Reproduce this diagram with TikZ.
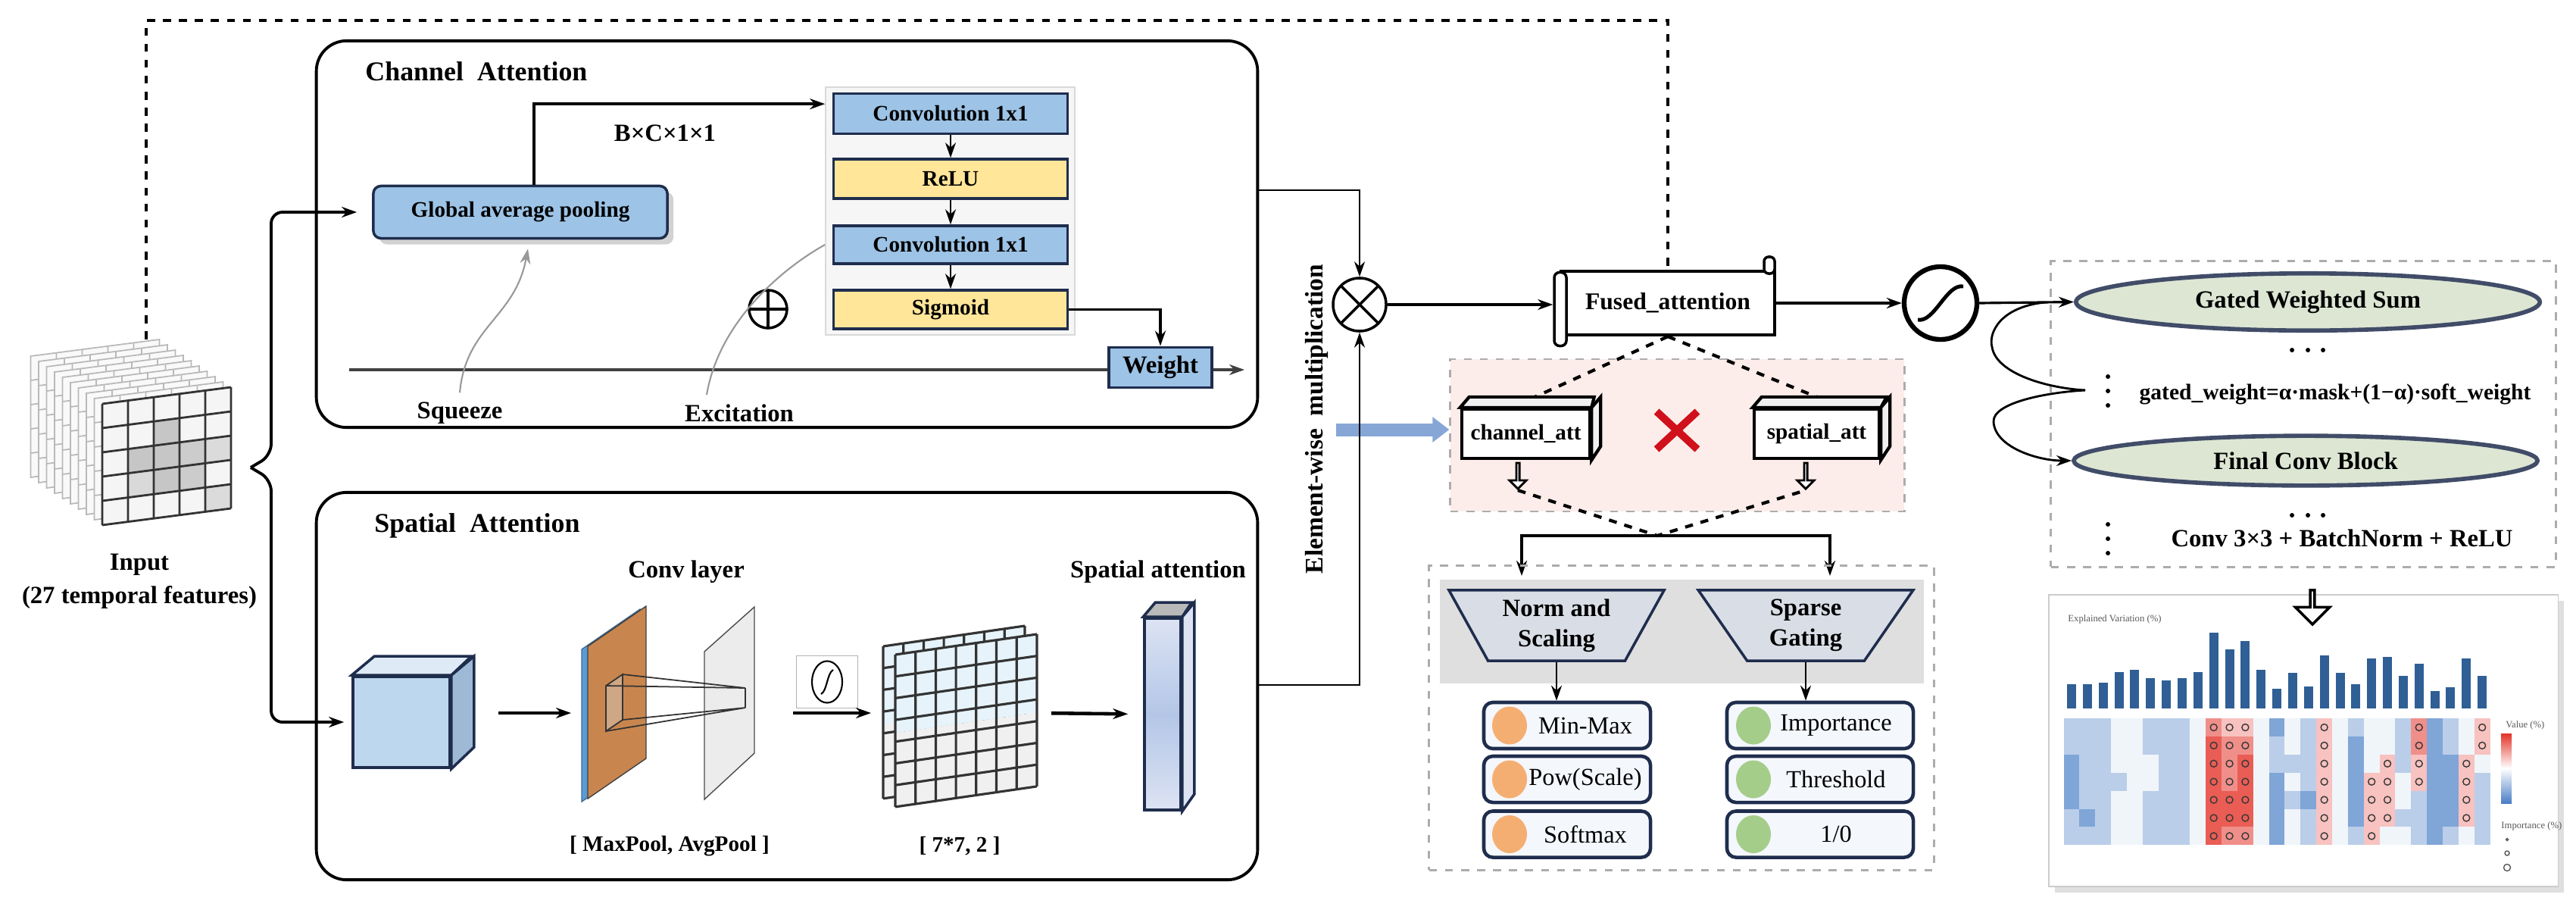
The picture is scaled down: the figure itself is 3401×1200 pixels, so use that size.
\documentclass[tikz,border=0pt]{standalone}
\usepackage{fontspec}
\setmainfont{Liberation Serif}
\usetikzlibrary{positioning,calc,arrows.meta,shapes.geometric,shapes.misc,shapes.arrows,shadows}

\definecolor{navy}{HTML}{1F2D4D}
\definecolor{boxblue}{HTML}{9DC3E6}
\definecolor{boxyellow}{HTML}{FFE699}
\definecolor{pinkbg}{HTML}{FCEDEA}
\definecolor{sage}{HTML}{DCE6D3}
\definecolor{orng}{HTML}{F5AE72}
\definecolor{grn}{HTML}{A5CD8A}
\definecolor{itembg}{HTML}{F4F7FC}
\definecolor{trapfill}{HTML}{D9DEE6}
\definecolor{cubefront}{HTML}{BDD7EE}
\definecolor{cubetopc}{HTML}{DEEBF7}
\definecolor{cubeside}{HTML}{9DB9D6}
\definecolor{convblue}{HTML}{5B9BD5}
\definecolor{convorange}{HTML}{C8864E}
\definecolor{gridblue}{HTML}{E6F3FB}
\definecolor{lav}{HTML}{DCE3F3}
\definecolor{lavmid}{HTML}{B4C6E7}
\definecolor{arrblue}{HTML}{86A6D6}
\definecolor{xred}{HTML}{D0101A}
\definecolor{barblue}{HTML}{2F5F95}
\definecolor{hmblue}{HTML}{4A7EC6}
\definecolor{hmred}{HTML}{E3342A}
\colorlet{hma}{hmblue!70!white}
\colorlet{hmb}{hmblue!38!white}
\colorlet{hmc}{hmblue!8!white}
\colorlet{hmd}{hmred!30!white}
\colorlet{hme}{hmred!55!white}
\colorlet{hmf}{hmred!80!white}

\begin{document}
\begin{tikzpicture}[x=0.01cm, y=-0.01cm, >={Stealth[length=0.2cm,width=0.14cm]},
  ttl/.style={font=\bfseries\fontsize{10.2}{12}\selectfont},
  lbl/.style={font=\bfseries\fontsize{8.3}{10}\selectfont},
  lblb/.style={font=\bfseries\fontsize{9.3}{11.5}\selectfont},
  txt/.style={font=\fontsize{9.2}{11}\selectfont},
  tiny/.style={font=\fontsize{3.6}{4}\selectfont, text=gray!70!black},
  panel/.style={draw, line width=1.1pt, rounded corners=0.4cm, minimum width=12.42cm, minimum height=5.1cm},
  bluebox/.style={draw=navy, line width=1pt, fill=boxblue, lbl},
  yelbox/.style={draw=navy, line width=1pt, fill=boxyellow, lbl},
  dashbox/.style={draw=gray!65, dashed, line width=0.8pt},
  link/.style={line width=1pt},
  thinlink/.style={line width=0.6pt},
  oplus/.style={circle, draw, line width=1pt, path picture={\draw[line width=1pt] (path picture bounding box.north) -- (path picture bounding box.south) (path picture bounding box.west) -- (path picture bounding box.east);}},
  otimes/.style={circle, draw, line width=1pt, path picture={\draw[line width=1pt] (path picture bounding box.north west) -- (path picture bounding box.south east) (path picture bounding box.north east) -- (path picture bounding box.south west);}},
  slab/.style={draw, line width=1.2pt, fill=white, minimum width=1.65cm, minimum height=0.65cm, lbl},
  hollow/.style={single arrow, draw, line width=0.8pt, fill=white, shape border rotate=270, inner sep=0pt, single arrow head extend=0.06cm},
  item/.style={draw=navy, line width=1.3pt, fill=itembg, rounded corners=0.12cm, minimum height=0.61cm},
  trap/.style={trapezium, trapezium angle=60, shape border rotate=180, trapezium stretches=true, draw=navy, line width=1pt, fill=trapfill, minimum width=2.84cm, minimum height=0.93cm, inner sep=0pt, align=center, lblb},
  gel/.style={ellipse, draw=navy!85, line width=1.6pt, fill=sage, minimum width=6.12cm, minimum height=0.62cm, lblb},
  dot/.style={circle, fill, inner sep=0pt, minimum size=0.06cm}
]
\useasboundingbox (0,0) rectangle (3401,1200);
\fill[white] (0,0) rectangle (3401,1200);

% input cube
\coordinate (cubetop) at (193,448);
\foreach \k in {9,...,1}{
  \begin{scope}[shift={({135-10.5*\k},{533-7*\k})}, x={(34,-4.4)}, y={(0,32)}]
    \filldraw[fill=gray!5, draw=gray!55, line width=0.5pt] (0,0) -- (5,0) -- (5,5) -- (0,5) -- cycle;
    \foreach \t in {1,...,4} \draw[gray!55, line width=0.5pt] (0,\t) -- (5,\t) (\t,0) -- (\t,0.3);
  \end{scope}
}
\begin{scope}[shift={(135,533)}, x={(34,-4.4)}, y={(0,32)}]
  \fill[gray!8] (0,0) -- (5,0) -- (5,5) -- (0,5) -- cycle;
  \foreach \c/\r/\s in {2/1/45, 1/2/45, 2/2/45, 3/2/40, 4/2/28, 1/3/30, 2/3/45, 3/3/40, 4/4/28}
    \fill[gray!\s] (\c,\r) -- ++(1,0) -- ++(0,1) -- ++(-1,0) -- cycle;
  \foreach \t in {0,...,5} \draw[gray!40!black, line width=0.8pt] (\t,0) -- (\t,5) (0,\t) -- (5,\t);
\end{scope}
\node[lblb] (inp) at (184,745) {Input};
\node[lblb] (inpf) at (184,788) {(27 temporal features)};

% the two attention panels
\node[panel] (ca) at (1039,309) {};
\node[panel, minimum height=5.11cm] (sa) at (1039,905.5) {};
\node[ttl, anchor=west] (catl) at (470,94) {Channel~ Attention};
\node[ttl, anchor=west] (satl) at (482,694) {Spatial~ Attention};

% channel attention
\node[bluebox, rounded corners=0.1cm, minimum width=3.88cm, minimum height=0.69cm, drop shadow={opacity=0.35}] (gap) at (687,280) {Global average pooling};
\node[draw=gray!30, fill=gray!7, minimum width=3.29cm, minimum height=3.27cm] (convbg) at (1254.5,278.5) {};
\node[bluebox, minimum width=3.09cm, minimum height=0.53cm] (conv1) at (1255,150) {Convolution 1x1};
\node[yelbox, minimum width=3.09cm, minimum height=0.52cm] (relu) at (1255,236) {ReLU};
\node[bluebox, minimum width=3.09cm, minimum height=0.5cm] (conv2) at (1255,323) {Convolution 1x1};
\node[yelbox, minimum width=3.09cm, minimum height=0.51cm] (sigm) at (1255,408.5) {Sigmoid};
\draw[thinlink,->] (conv1) -- (relu);
\draw[thinlink,->] (relu) -- (conv2);
\draw[thinlink,->] (conv2) -- (sigm);
\draw[link,->] ($(gap.north)+(18,0)$) |- ($(convbg.north west)+(0,23)$);
\node[lblb] (bcxx) at (878,176) {B×C×1×1};
\node[oplus, minimum size=0.5cm] (plus) at (1014,408) {};
\coordinate (wl0) at (461,488);
\coordinate (wl1) at (1643,488);
\draw[line width=1.4pt, black!75, ->] (wl0) -- (wl1);
\node[bluebox, lblb, minimum width=1.36cm, minimum height=0.52cm] (weight) at (1532,485) {Weight};
\draw[link,->] (sigm.east) -| (weight.north);
\node[lblb] (sq) at (607,545) {Squeeze};
\node[lblb] (ex) at (976,545) {Excitation};
\draw[gray!80, line width=0.6pt, ->] (sq.north) .. controls (615,430) and (680,420) .. ($(gap.south)+(10,12)$);
\draw[gray!80, line width=0.6pt] ($(ex.north)+(-43,0)$) .. controls (950,420) and (1040,350) .. (convbg.west |- conv2);

% input split
\coordinate (split) at (331,617);
\draw[line width=1.1pt, ->, rounded corners=0.15cm, shorten >=0.2cm] (split) -- ++(27,-16) |- (gap.west);

% spatial attention
\node[draw=navy, line width=1pt, fill=cubefront, minimum width=1.28cm, minimum height=1.2cm] (cubeb) at (530,953) {};
\filldraw[draw=navy, line width=1pt, fill=cubetopc] (cubeb.north west) -- ++(30,-25) -- ++(128,0) -- (cubeb.north east) -- cycle;
\filldraw[draw=navy, line width=1pt, fill=cubeside] (cubeb.north east) -- ++(30,-25) -- ++(0,120) -- (cubeb.south east) -- cycle;
\draw[line width=1.1pt, ->, rounded corners=0.15cm, shorten >=0.1cm] (split) -- ++(27,16) |- (cubeb.west);

\filldraw[fill=convblue, draw=convblue!70!black, line width=0.4pt] (768,857) -- (845,804) -- (845,1005) -- (768,1058) -- cycle;
\filldraw[fill=convorange, draw=gray!50!black, line width=0.4pt] (776,853) -- (853,800) -- (853,1001) -- (776,1054) -- cycle;
\coordinate (convl) at (768,941);
\filldraw[fill=gray!15, draw=gray!60!black, line width=0.4pt] (930,860) -- (996,801) -- (996,994) -- (930,1055) -- cycle;
\filldraw[fill=gray!30, fill opacity=0.4, draw=gray!40!black, line width=0.5pt] (800,905) -- (822,890) -- (822,950) -- (800,965) -- cycle;
\draw[gray!40!black, line width=0.5pt] (800,905) -- (984,908) (822,890) -- (984,908) (800,965) -- (984,934) (822,950) -- (984,934) (984,908) -- (984,934);
\coordinate (planer) at (996,941);
\node[lblb] (convlbl) at (906,755) {Conv layer};
\node[lbl] (poollbl) at (884,1117) {[ MaxPool, AvgPool ]};
\draw[line width=1.3pt, ->, shorten <=0.62cm, shorten >=0.14cm] (cubeb.east |- convl) -- (convl);

\node[draw=gray!60, line width=0.5pt, minimum width=0.81cm, minimum height=0.69cm] (sigico) at (1092,900) {};
\node[ellipse, draw, line width=0.6pt, minimum width=0.4cm, minimum height=0.55cm] (sigell) at (sigico) {};
\draw[line width=0.6pt] ($(sigell)+(-8,16)$) .. controls ($(sigell)+(0,12)$) and ($(sigell)+(0,-12)$) .. ($(sigell)+(8,-16)$);

\foreach \gx/\gy in {1166/853, 1182/864}{
  \begin{scope}[shift={(\gx,\gy)}, x={(26.7,-3.86)}, y={(0,28.7)}]
    \fill[gridblue] (0,0) -- (7,0) -- (7,3.6) -- (0,3.6) -- cycle;
    \fill[gray!12] (0,3.6) -- (7,3.6) -- (7,7) -- (0,7) -- cycle;
    \foreach \t in {0,...,7} \draw[line width=0.9pt, black!80] (\t,0) -- (\t,7) (0,\t) -- (7,\t);
  \end{scope}
}
\coordinate (gridl) at (1166,941);
\coordinate (gridr) at (1369,941);
\node[lbl] (gridlbl) at (1267,1117) {[ 7*7, 2 ]};
\draw[line width=1.3pt, ->, shorten <=0.51cm, shorten >=0.16cm] (planer) -- (gridl);

\node[draw=navy, line width=1pt, top color=lav, bottom color=lav, middle color=lavmid, minimum width=0.48cm, minimum height=2.53cm] (sabar) at (1535,942.5) {};
\filldraw[draw=navy, line width=1pt, fill=gray!55] (sabar.north west) -- ++(16,-19) -- ++(48,0) -- (sabar.north east) -- cycle;
\filldraw[draw=navy, line width=1pt, fill=lav] (sabar.north east) -- ++(16,-19) -- ++(0,253) -- (sabar.south east) -- cycle;
\node[lblb] (salbl) at (1529,755) {Spatial attention};
\draw[line width=1.3pt, ->, shorten <=0.19cm, shorten >=0.2cm] (gridr) -- (sabar.west);

% element-wise multiplication
\node[otimes, minimum size=0.7cm] (mul) at (1795,402) {};
\coordinate (caout) at (1660,251);
\coordinate (saout) at (1660,904);
\draw[line width=0.8pt, ->] (caout) -| (mul.north);
\node[dashbox, fill=pinkbg, minimum width=5.99cm, minimum height=2.01cm] (pinkp) at (2214.5,574.5) {};
\coordinate (bls) at (1764,567);
\draw[line width=0.17cm, arrblue, -{Triangle[length=0.22cm,width=0.32cm]}] (bls) -- (bls -| pinkp.west);
\draw[line width=0.8pt, ->] (saout) -| (mul.south);
\node[rotate=90, font=\bfseries\fontsize{9.5}{11}\selectfont] (ewm) at (1738,553) {Element-wise~ multiplication};

% fused attention
\node[draw, line width=1.2pt, fill=white, minimum width=2.81cm, minimum height=0.84cm, font=\bfseries\fontsize{9}{11}\selectfont] (fused) at (2202,400) {Fused\_attention};
\node[draw, line width=1pt, fill=white, rounded corners=0.07cm, minimum width=0.16cm, minimum height=0.97cm, inner sep=0pt] (froll) at (2060,408) {};
\node[draw, line width=1pt, fill=white, rounded corners=0.06cm, minimum width=0.14cm, minimum height=0.22cm, inner sep=0pt] (froll2) at (2336,350) {};
\draw[dashed, line width=0.9pt] (cubetop) -- (193,27) -| (fused.north);
\draw[line width=0.9pt, ->] (mul.east) -- (mul.east -| froll.west);

\node[slab] (catt) at (2014.5,572.5) {channel\_att};
\node[slab] (satt) at (2398.5,572.5) {spatial\_att};
\foreach \b in {catt, satt}{
  \filldraw[line width=1.2pt, fill=gray!12] (\b.north west) -- ++(12,-14) -- ++(165,0) -- (\b.north east) -- cycle;
  \filldraw[line width=1.2pt, fill=gray!12] (\b.north east) -- ++(12,-14) -- ++(0,65) -- (\b.south east) -- cycle;
}
\draw[dashed, line width=1.2pt] (fused.south) -- ($(catt.north)+(12,-14)$);
\draw[dashed, line width=1.2pt] (fused.south) -- ($(satt.north)+(0,-14)$);
\node[cross out, draw=xred, line width=2.8pt, minimum width=0.44cm, minimum height=0.4cm] (xmark) at (2214,568) {};
\node[hollow, minimum height=0.34cm, minimum width=0.22cm] (cadn) at (2004,627) {};
\node[hollow, minimum height=0.34cm, minimum width=0.22cm] (sadn) at (2384,627) {};
\coordinate (merge) at (2188,707);
\draw[dashed, line width=1.2pt] (cadn.tip) -- (merge) -- (sadn.tip);
\coordinate (nsin) at (2009,760);
\coordinate (sgin) at (2416,760);
\draw[link, ->] (merge) -| (nsin);
\draw[link, ->] (merge) -| (sgin);

% gating part
\node[dashbox, minimum width=6.66cm, minimum height=4.01cm] (lowp) at (2220,947.5) {};
\node[fill=gray!25, minimum width=6.39cm, minimum height=1.37cm] (band) at (2220.5,833.5) {};
\node[trap] (norm) at (2055,825.5) {Norm and\\Scaling};
\node[trap] (sparse) at (2384,825.5) {Sparse\\Gating};
\foreach \nm/\yy/\tx in {mm/957.5/Min-Max, pw/1028.5/Pow(Scale), sm/1101/Softmax}{
  \node[item, minimum width=2.2cm] (\nm) at (2069,\yy) {};
  \node[ellipse, fill=orng, minimum width=0.46cm, minimum height=0.5cm, inner sep=0pt] (\nm-dot) at (1993,\yy) {};
  \node[txt] (\nm-txt) at (2093,\yy) {\tx};
}
\foreach \nm/\yy/\tx in {imp/957.5/Importance, thr/1028.5/Threshold, bin/1101/{1/0}}{
  \node[item, minimum width=2.46cm] (\nm) at (2403,\yy) {};
  \node[ellipse, fill=grn, minimum width=0.46cm, minimum height=0.5cm, inner sep=0pt] (\nm-dot) at (2315,\yy) {};
  \node[txt] (\nm-txt) at (2424,\yy) {\tx};
}
\draw[line width=0.8pt, ->] (norm.south) -- (norm.south |- mm.north);
\draw[line width=0.8pt, ->] (sparse.south) -- (sparse.south |- imp.north);

% output side
\node[circle, draw, line width=1.8pt, minimum size=0.96cm] (sig) at (2562,400) {};
\draw[line width=1.4pt] ($(sig)+(-30,22)$) .. controls ($(sig)+(-8,26)$) and ($(sig)+(8,-26)$) .. ($(sig)+(30,-22)$);
\draw[line width=0.9pt, ->] (fused.east) -- (sig.west);
\node[dashbox, minimum width=6.66cm, minimum height=4.03cm] (rp) at (3041,546.5) {};
\node[gel] (gws) at (3047,398.5) {Gated Weighted Sum};
\node[gel, minimum height=0.6cm] (fcb) at (3044,608) {Final Conv Block};
\draw[line width=0.9pt, ->] (sig.east) -- (gws.west);
\coordinate (c1) at ($(sig.east)!0.7!(gws.west)$);
\coordinate (tip) at (2753,515);
\draw[line width=0.8pt] (c1) .. controls (2640,405) and (2625,440) .. (2630,458) .. controls (2635,492) and (2700,512) .. (tip);
\draw[line width=0.8pt, ->] (tip) .. controls (2700,518) and (2630,532) .. (2632,557) .. controls (2634,590) and (2690,608) .. (fcb.west);
\foreach \dx [count=\n] in {3026,3047,3067} \node[dot] (hd\n) at (\dx,462) {};
\foreach \dy [count=\n] in {497,516,535} \node[dot] (vd\n) at (2783,\dy) {};
\foreach \dx [count=\n] in {3026,3047,3067} \node[dot] (hdb\n) at (\dx,680) {};
\foreach \dy [count=\n] in {692,711,730} \node[dot] (vdb\n) at (2783,\dy) {};
\node[font=\bfseries\fontsize{8.4}{10}\selectfont] (gwt) at (3083,520) {gated\_weight=α·mask+(1−α)·soft\_weight};
\node[lblb] (convtxt) at (3092,710) {Conv 3×3 + BatchNorm + ReLU};

% heatmap
\node[draw=gray!40, fill=white, drop shadow={opacity=0.25}, minimum width=6.72cm, minimum height=3.85cm] (hm) at (3041,977.5) {};
\node[hollow, line width=1pt, minimum height=0.45cm, minimum width=0.45cm, single arrow head extend=0.12cm] (hmdn) at (3053,800) {};
\node[tiny, anchor=west] (evlbl) at (2718,817) {Explained Variation (\%)};
\foreach \h [count=\i from 0] in {31.7,32.3,34.3,48.3,50.7,40,37.3,40,48.3,100,78.3,89.3,51,26,47.3,29.3,70,47.3,32.3,65.7,67.7,42.7,59.3,23.3,28.3,65.7,43.3}
  \fill[barblue] ({2729+20.85*\i},935) rectangle ++(12,-\h);
\foreach \cv [count=\i from 0] in {{b,b,a,a,a,b,b},{b,b,b,b,b,a,b},{b,b,b,b,b,b,b},{c,c,c,b,c,c,c},{c,c,c,c,c,c,c},{b,b,c,c,b,b,b},{b,b,b,b,b,b,b},{b,b,b,b,b,b,b},{c,c,c,c,c,c,c},{e,f,f,f,f,f,f},{d,e,e,e,f,f,e},{d,e,f,f,f,f,e},{c,c,c,c,c,c,c},{a,b,b,a,a,a,a},{c,c,b,c,b,c,c},{b,b,b,b,a,b,b},{d,d,d,d,d,d,d},{c,c,c,c,c,c,c},{b,a,a,a,a,a,b},{c,c,c,d,d,d,d},{c,c,d,d,d,d,c},{b,b,b,c,c,b,c},{e,e,d,d,b,b,b},{a,a,a,a,a,a,a},{b,b,a,a,a,a,b},{c,c,d,d,d,d,c},{d,d,c,b,b,b,b}}{
  \foreach \v [count=\j from 0] in \cv {
    \fill[hm\v] ({2724.5+20.85*\i},{948+23.9*\j}) rectangle ++(20.85,23.9);
    \if\v a\else\if\v b\else\if\v c\else
      \draw[gray!45!black, line width=0.4pt] ({2735+20.85*\i},{960+23.9*\j}) circle (4.5);
    \fi\fi\fi
  }
}
\shade[top color=hmred, bottom color=hmblue, middle color=white] (3302,968) rectangle (3316,1060);
\node[tiny, anchor=west] (vlbl) at (3296,957) {Value (\%)};
\node[tiny, anchor=west] (implbl) at (3290,1090) {Importance (\%)};
\foreach \r/\yy in {1.5/1108, 3/1126, 4.5/1145} \draw[gray!70!black, line width=0.4pt] (3310,\yy) circle (\r);
\end{tikzpicture}
\end{document}
